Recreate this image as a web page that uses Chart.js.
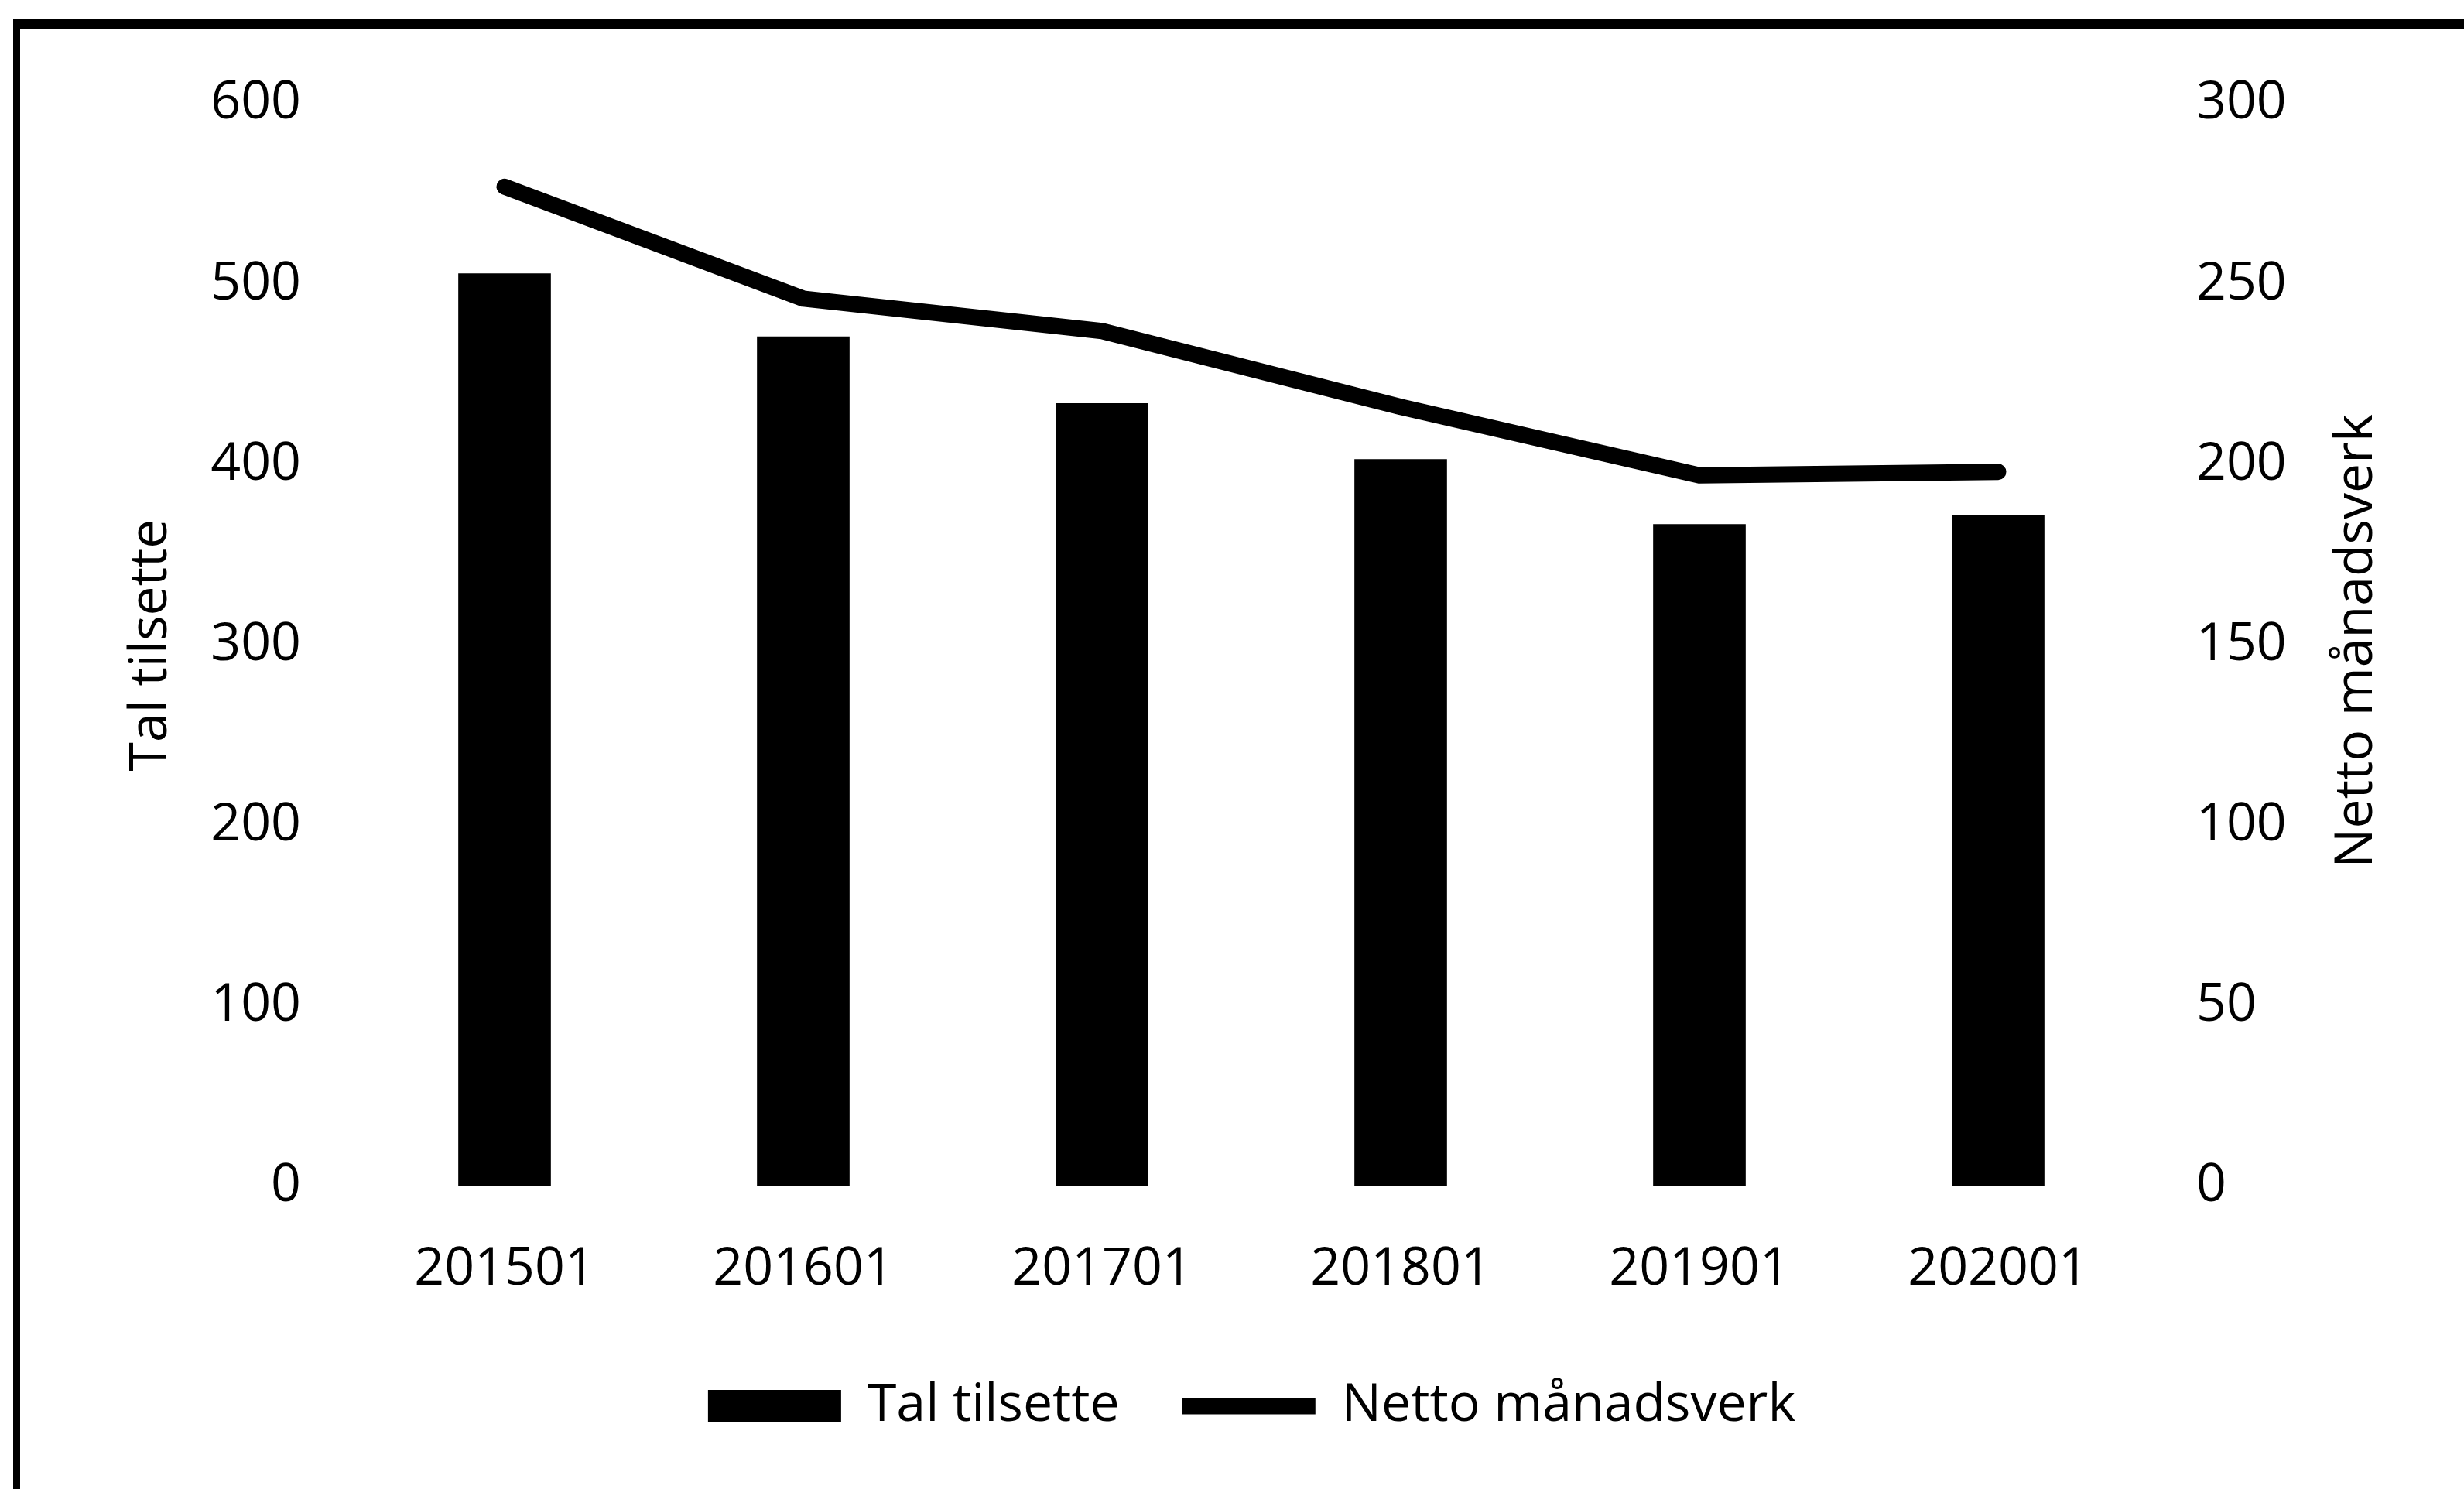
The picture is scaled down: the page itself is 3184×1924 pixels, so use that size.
<!DOCTYPE html>
<html>
<head>
<meta charset="utf-8">
<script src="https://cdn.jsdelivr.net/npm/chart.js@4.4.1/dist/chart.umd.min.js"></script>
<style>
    html, body { margin: 0; padding: 0; background: #ffffff; overflow: hidden; }
    #wrap { position: relative; width: 3184px; height: 1924px; }
    #frame {
        position: absolute; left: 17px; top: 25px; right: -20px; bottom: -40px;
        border-left: 9px solid #000; border-top: 12px solid #000;
    }
    #chart { position: absolute; left: 0; top: 0; }
</style>
</head>
<body>
<div id="wrap">
    <div id="frame"></div>
    <canvas id="chart" width="3184" height="1924"></canvas>
</div>
<script>
const categories = ['201501', '201601', '201701', '201801', '201901', '202001'];
const talTilsette = [506, 471, 434, 403, 367, 372];
const nettoManadsverk = [277, 246, 237, 216, 197, 198];
const leftTicks = [0, 100, 200, 300, 400, 500, 600];
const rightTicks = [0, 50, 100, 150, 200, 250, 300];

const FONT = "'Open Sans', 'Noto Sans', sans-serif";
Chart.defaults.color = '#000000';
Chart.defaults.font.family = FONT;
Chart.defaults.font.size = 68;

// title on the right axis reads bottom-to-top like the left one
const rightTitle = {
    id: 'rightTitle',
    afterDraw(chart) {
        const ctx = chart.ctx;
        const area = chart.chartArea;
        ctx.save();
        ctx.translate(3046, (area.top + area.bottom) / 2 - 5);
        ctx.rotate(-Math.PI / 2);
        ctx.font = '68px ' + FONT;
        ctx.fillStyle = '#000';
        ctx.textAlign = 'center';
        ctx.textBaseline = 'middle';
        ctx.fillText('Netto månadsverk', 0, 0);
        ctx.restore();
    }
};

document.addEventListener("DOMContentLoaded", () => {
    const el = document.getElementById('chart');

    new Chart(el, {
        type: 'bar',
        data: {
            labels: categories,
            datasets: [{
                type: 'bar',
                label: 'Tal tilsette',
                data: talTilsette,
                backgroundColor: '#000000',
                borderWidth: 0,
                barPercentage: 0.31,
                categoryPercentage: 1,
                yAxisID: 'y',
                order: 2
            }, {
                type: 'line',
                label: 'Netto månadsverk',
                data: nettoManadsverk,
                borderColor: '#000000',
                backgroundColor: '#000000',
                borderWidth: 21,
                borderCapStyle: 'round',
                borderJoinStyle: 'round',
                pointRadius: 0,
                tension: 0,
                yAxisID: 'y1',
                order: 1
            }]
        },
        plugins: [rightTitle],
        options: {
            responsive: false,
            animation: false,
            devicePixelRatio: 1,
            layout: { padding: { left: 140, right: 89, top: 134, bottom: 63 } },
            plugins: {
                tooltip: { enabled: false },
                legend: {
                    position: 'bottom',
                    labels: {
                        usePointStyle: true,
                        boxWidth: 172,
                        boxHeight: 42,
                        pointStyleWidth: 172,
                        padding: 81,
                        color: '#000',
                        font: { size: 68 },
                        sort: (a, b) => a.datasetIndex - b.datasetIndex,
                        generateLabels: (chart) => {
                            const items = Chart.defaults.plugins.legend.labels.generateLabels(chart);
                            items.forEach(it => {
                                it.pointStyle = it.datasetIndex === 0 ? 'rect' : 'line';
                            });
                            return items;
                        }
                    }
                }
            },
            scales: {
                x: {
                    grid: { display: false, drawTicks: false },
                    border: { display: false },
                    ticks: { padding: 67, maxRotation: 0, font: { size: 68 } },
                    afterFit: (axis) => { axis.height = 169; }
                },
                y: {
                    position: 'left',
                    min: 0,
                    max: 600,
                    afterBuildTicks: (axis) => { axis.ticks = leftTicks.map(v => ({ value: v })); },
                    grid: { display: false, drawTicks: false },
                    border: { display: false },
                    ticks: { padding: 70, font: { size: 68 } },
                    title: {
                        display: true,
                        text: 'Tal tilsette',
                        font: { size: 68 },
                        padding: { top: 15, bottom: 0 }
                    },
                    afterFit: (axis) => { axis.width = 319; }
                },
                y1: {
                    position: 'right',
                    min: 0,
                    max: 300,
                    afterBuildTicks: (axis) => { axis.ticks = rightTicks.map(v => ({ value: v })); },
                    grid: { display: false, drawTicks: false },
                    border: { display: false },
                    ticks: { padding: 63, font: { size: 68 } },
                    afterFit: (axis) => { axis.width = 320; }
                }
            }
        }
    });
});
</script>
</body>
</html>
